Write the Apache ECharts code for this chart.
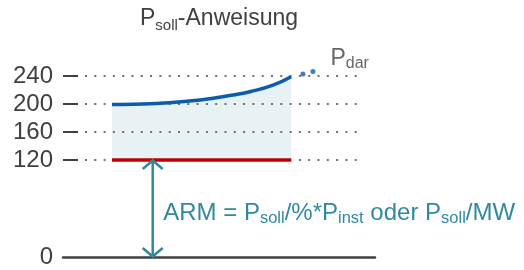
<!DOCTYPE html>
<html><head><meta charset="utf-8">
<script src="https://cdn.jsdelivr.net/npm/echarts@6/dist/echarts.min.js"></script>
<style>html,body{margin:0;padding:0;background:#fff}#c{width:524px;height:270px}</style>
</head><body><div id="c"></div>
<script>
// ---- data ----
const Y_TICKS = [120, 160, 200, 240];
const BASE_LABEL = 0;
const ARM_LEVEL = 120;
const CURVE_X = [15.7, 22.4, 31.1, 43.9, 54.5, 59.9, 67.3, 73.1];
const CURVE_Y = [199.3, 199.7, 201, 205.7, 212.9, 217.6, 227, 239];
const DOT_X = [76.9, 80.1];
const DOT_Y = [242.9, 246.5];
const ARM_X = 28.75;
const TITLE_TEXT = '{p|P}{s|soll}{p|-Anweisung}';
const ARM_TEXT = '{p|ARM = P}{s|soll}{p|/%*P}{s|inst}{p| oder P}{s|soll}{p|/MW}';
const PDAR_TEXT = '{p|P}{s|dar}';

// ---- styling / layout ----
const FONT = 'Liberation Sans, Arial, sans-serif';
const GRAY = '#404040';
const TEAL = '#3189a1';
const BLUE = '#0b5cad';
const RED = '#c00000';
const FILL = '#e7f2f5';
const AXIS_MIN = -18.57;   // axis position of the (broken) zero level
const AXIS_MAX = 260;
function yScale(v) { return v >= ARM_LEVEL ? v : AXIS_MIN + v * (ARM_LEVEL - AXIS_MIN) / ARM_LEVEL; }

const chart = echarts.init(document.getElementById('c'), null, {renderer: 'canvas'});
const gridSeries = Y_TICKS.map(t => ({
  type: 'line', silent: true, symbol: 'none', z: 2,
  data: [[7.05, t], [95.2, t]],
  lineStyle: {color: '#6f6f6f', width: 2, type: [2, 7.3]}
}));

const dotData = DOT_X.map((x, i) => {
  const item = {value: [x, DOT_Y[i]]};
  if (i === DOT_X.length - 1) {
    item.label = {
      show: true, position: 'right', distance: 5, offset: [10, -13],
      formatter: PDAR_TEXT,
      rich: {
        p: {fontSize: 23, color: GRAY, fontFamily: FONT, lineHeight: 26},
        s: {fontSize: 16, color: GRAY, fontFamily: FONT, lineHeight: 16, verticalAlign: 'bottom'}
      }
    };
  }
  return item;
});

chart.setOption({
  animation: false,
  grid: {left: 63, right: 149, top: 62, bottom: 13},
  xAxis: {
    type: 'value', min: 0, max: 100,
    axisLine: {show: true, onZero: false, lineStyle: {color: GRAY, width: 2.5}},
    axisTick: {show: false}, axisLabel: {show: false}, splitLine: {show: false}
  },
  yAxis: {
    type: 'value', min: AXIS_MIN, max: AXIS_MAX,
    axisLine: {show: false}, splitLine: {show: false},
    axisTick: {show: true, inside: true, length: 15, customValues: Y_TICKS,
      lineStyle: {color: GRAY, width: 2}},
    axisLabel: {
      customValues: [yScale(BASE_LABEL)].concat(Y_TICKS),
      formatter: v => (v < ARM_LEVEL ? String(BASE_LABEL) : String(Math.round(v))),
      fontSize: 24, color: GRAY, fontFamily: FONT, margin: 10
    }
  },
  graphic: [{
    type: 'text', x: 219, y: 19,
    style: {
      text: TITLE_TEXT, align: 'center', verticalAlign: 'middle',
      rich: {
        p: {fontSize: 23, fill: GRAY, fontFamily: FONT, lineHeight: 28},
        s: {fontSize: 15, fill: GRAY, fontFamily: FONT, lineHeight: 16, verticalAlign: 'bottom'}
      }
    }
  }],
  series: [
    {type: 'line', symbol: 'none', silent: true, z: 1, smooth: true,
      data: CURVE_X.map((x, i) => [x, CURVE_Y[i]]),
      lineStyle: {opacity: 0}, areaStyle: {color: FILL, opacity: 1, origin: ARM_LEVEL}},
    ...gridSeries,
    {type: 'line', symbol: 'none', z: 3, smooth: true,
      data: CURVE_X.map((x, i) => [x, CURVE_Y[i]]),
      lineStyle: {color: BLUE, width: 3.5}},
    {type: 'line', symbol: 'none', z: 3,
      data: [[CURVE_X[0], ARM_LEVEL], [CURVE_X[CURVE_X.length - 1], ARM_LEVEL]],
      lineStyle: {color: RED, width: 3.5}},
    {type: 'scatter', z: 3, symbol: 'circle', symbolSize: 5,
      itemStyle: {color: BLUE}, data: dotData},
    {type: 'custom', z: 4, silent: true,
      data: [[ARM_X, yScale(ARM_LEVEL), yScale(BASE_LABEL)]],
      renderItem: (params, api) => {
        const top = api.coord([api.value(0), api.value(1)]);
        const bot = api.coord([api.value(0), api.value(2)]);
        const w = 10, h = 9;
        const st = {stroke: TEAL, lineWidth: 2.5, fill: null};
        return {type: 'group', children: [
          {type: 'line', shape: {x1: top[0], y1: top[1], x2: bot[0], y2: bot[1]}, style: st},
          {type: 'polyline', shape: {points: [[top[0] - w, top[1] + h], [top[0], top[1] + 0.5], [top[0] + w, top[1] + h]]}, style: st},
          {type: 'polyline', shape: {points: [[bot[0] - w, bot[1] - h], [bot[0], bot[1] - 0.5], [bot[0] + w, bot[1] - h]]}, style: st},
          {type: 'text', x: top[0] + 10.5, y: (top[1] + bot[1]) / 2 + 4.5,
            style: {text: ARM_TEXT, align: 'left', verticalAlign: 'middle',
              rich: {
                p: {fontSize: 24, fill: TEAL, fontFamily: FONT, lineHeight: 28},
                s: {fontSize: 16.5, fill: TEAL, fontFamily: FONT, lineHeight: 16, verticalAlign: 'bottom'}
              }}}
        ]};
      }}
  ]
});
</script></body></html>
